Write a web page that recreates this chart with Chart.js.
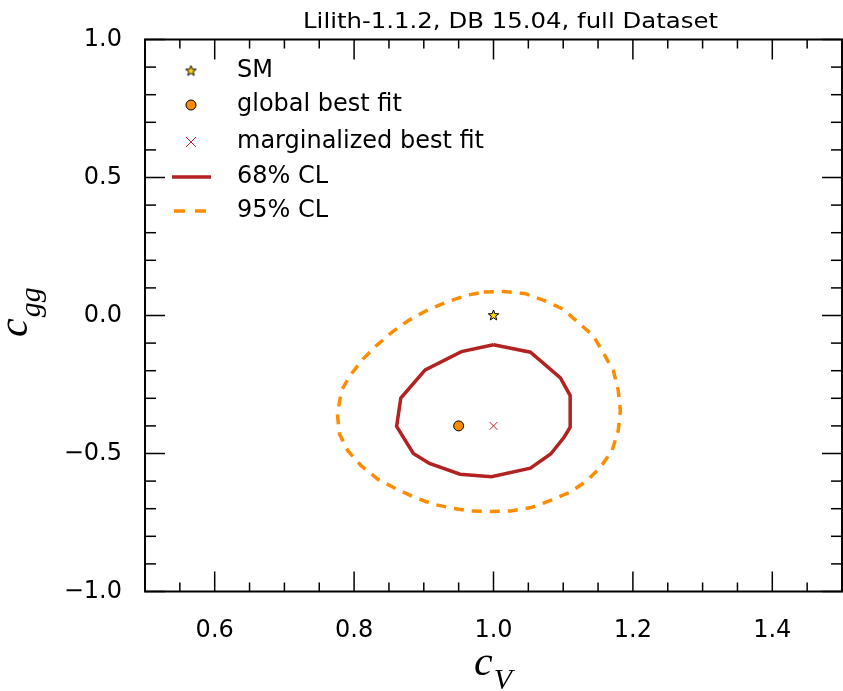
<!DOCTYPE html>
<html>
<head>
<meta charset="utf-8">
<script src="https://cdn.jsdelivr.net/npm/chart.js@4/dist/chart.umd.min.js"></script>
<style>
  body { margin: 0; background: #fff; overflow: hidden; }
  canvas { display: block; }
</style>
</head>
<body>
<canvas id="myChart" width="843" height="691"></canvas>
<script>
// contour values (cV, cgg)
const cl68X = [1.000, 1.053, 1.096, 1.110, 1.110, 1.101, 1.082, 1.053, 0.997, 0.952, 0.908, 0.885, 0.861, 0.867, 0.902, 0.954, 1.000];
const cl68Y = [-0.106, -0.133, -0.226, -0.290, -0.405, -0.442, -0.502, -0.553, -0.584, -0.575, -0.536, -0.500, -0.402, -0.299, -0.197, -0.131, -0.106];

const cl95X = [0.986, 1.015, 1.046, 1.073, 1.099, 1.121, 1.143, 1.157, 1.172, 1.179, 1.182, 1.179, 1.170, 1.153, 1.134, 1.109, 1.080, 1.054, 1.025, 0.996,
               0.967, 0.943, 0.914, 0.887, 0.861, 0.834, 0.810, 0.791, 0.779, 0.776, 0.782, 0.794, 0.813, 0.832, 0.854, 0.878, 0.904, 0.932, 0.961, 0.986];
const cl95Y = [0.085, 0.087, 0.079, 0.054, 0.024, -0.024, -0.073, -0.133, -0.200, -0.272, -0.345, -0.417, -0.490, -0.551, -0.599, -0.641, -0.672, -0.696, -0.708, -0.710,
               -0.708, -0.699, -0.684, -0.659, -0.629, -0.593, -0.544, -0.490, -0.429, -0.357, -0.272, -0.218, -0.157, -0.109, -0.061, -0.018, 0.018, 0.048, 0.073, 0.085];

const smPoint = [1.0, 0.0];
const globalBest = [0.95, -0.4];
const margBest = [1.0, -0.4];

const xTicks = [0.6, 0.8, 1.0, 1.2, 1.4];
const yTicks = [-1.0, -0.5, 0.0, 0.5, 1.0];

const titleText = 'Lilith-1.1.2, DB 15.04, full Dataset';

// star marker image
function starImage(size) {
    const c = document.createElement('canvas');
    c.width = size; c.height = size;
    const g = c.getContext('2d');
    const cx = size / 2, cy = size / 2, ro = size / 2 - 1, ri = ro * 0.42;
    g.beginPath();
    for (let i = 0; i < 10; i++) {
        const r = i % 2 === 0 ? ro : ri;
        const a = -Math.PI / 2 + i * Math.PI / 5;
        g.lineTo(cx + r * Math.cos(a), cy + r * Math.sin(a));
    }
    g.closePath();
    g.fillStyle = '#ffd700';
    g.fill();
    g.strokeStyle = '#000';
    g.lineWidth = 1;
    g.stroke();
    return c;
}
const star = starImage(13);

function fmt(v) {
    return v.toFixed(1).replace('-', '\u2212');
}

const decor = {
    id: 'decor',
    afterDraw(chart) {
        const { ctx, chartArea: a, scales: { x, y } } = chart;
        ctx.save();

        // frame
        ctx.strokeStyle = '#000';
        ctx.lineWidth = 2;
        ctx.strokeRect(a.left, a.top, a.right - a.left, a.bottom - a.top);

        // inward ticks on all four sides
        ctx.lineWidth = 1.5;
        function seg(x1, y1, x2, y2) {
            ctx.beginPath(); ctx.moveTo(x1, y1); ctx.lineTo(x2, y2); ctx.stroke();
        }
        for (let i = 0; i <= 20; i++) {
            const v = 0.5 + i * 0.05;
            const px = x.getPixelForValue(v);
            const major = xTicks.some(t => Math.abs(t - v) < 1e-6);
            const len = major ? 20 : 9;
            seg(px, a.bottom, px, a.bottom - len);
            seg(px, a.top, px, a.top + len);
        }
        for (let i = 0; i <= 20; i++) {
            const v = -1 + i * 0.1;
            const py = y.getPixelForValue(v);
            const major = yTicks.some(t => Math.abs(t - v) < 1e-6);
            const len = major ? 20 : 11;
            seg(a.left, py, a.left + len, py);
            seg(a.right, py, a.right - len, py);
        }

        // title
        ctx.fillStyle = '#000';
        ctx.font = '21px "DejaVu Sans"';
        ctx.textBaseline = 'alphabetic';
        ctx.textAlign = 'left';
        const tw = ctx.measureText(titleText).width;
        ctx.save();
        ctx.translate(303, 28);
        ctx.scale(415 / tw, 1);
        ctx.fillText(titleText, 0, 0);
        ctx.restore();

        // axis titles
        ctx.font = 'italic 42px "Liberation Serif"';
        ctx.fillText('c', 474, 675);
        const cw = ctx.measureText('c').width;
        ctx.font = 'italic 30px "Liberation Serif"';
        ctx.fillText('V', 474 + cw + 1, 689);

        ctx.save();
        ctx.translate(27, 337);
        ctx.rotate(-Math.PI / 2);
        ctx.font = 'italic 42px "Liberation Serif"';
        ctx.fillText('c', 0, 0);
        ctx.font = 'italic 30px "Liberation Serif"';
        ctx.fillText('gg', cw + 1, 13);
        ctx.restore();

        // legend
        const lx = 191, tx = 237;
        const rows = [71, 105, 142, 177, 211];
        ctx.font = '24px "DejaVu Sans"';
        ctx.textBaseline = 'middle';
        const ds = chart.data.datasets;
        ctx.drawImage(star, lx - star.width / 2, rows[0] - star.height / 2);
        ctx.fillText(ds[2].label, tx, rows[0]);

        ctx.beginPath();
        ctx.arc(lx, rows[1], 5, 0, Math.PI * 2);
        ctx.fillStyle = ds[3].backgroundColor;
        ctx.fill();
        ctx.lineWidth = 1;
        ctx.strokeStyle = '#000';
        ctx.stroke();
        ctx.fillStyle = '#000';
        ctx.fillText(ds[3].label, tx, rows[1]);

        ctx.strokeStyle = ds[4].borderColor;
        ctx.lineWidth = 1;
        seg(lx - 5, rows[2] - 5, lx + 5, rows[2] + 5);
        seg(lx - 5, rows[2] + 5, lx + 5, rows[2] - 5);
        ctx.fillText(ds[4].label, tx, rows[2]);

        ctx.strokeStyle = ds[0].borderColor;
        ctx.lineWidth = ds[0].borderWidth;
        seg(172, rows[3], 211, rows[3]);
        ctx.fillText(ds[0].label, tx, rows[3]);

        ctx.strokeStyle = ds[1].borderColor;
        ctx.lineWidth = ds[1].borderWidth;
        ctx.setLineDash([11, 10]);
        seg(174, rows[4], 211, rows[4]);
        ctx.setLineDash([]);
        ctx.fillText(ds[1].label, tx, rows[4]);

        ctx.restore();
    }
};

const ctx = document.getElementById('myChart').getContext('2d');

const myChart = new Chart(ctx, {
    type: 'scatter',
    data: {
        datasets: [
            {
                label: '68% CL',
                data: cl68X.map((v, i) => ({ x: v, y: cl68Y[i] })),
                showLine: true,
                borderColor: '#b22222',
                borderWidth: 3.5,
                pointRadius: 0,
                tension: 0
            },
            {
                label: '95% CL',
                data: cl95X.map((v, i) => ({ x: v, y: cl95Y[i] })),
                showLine: true,
                borderColor: '#ff8c00',
                borderWidth: 3.5,
                borderDash: [10, 8],
                pointRadius: 0,
                tension: 0
            },
            {
                label: 'SM',
                data: [{ x: smPoint[0], y: smPoint[1] }],
                pointStyle: star,
                pointRadius: 6
            },
            {
                label: 'global best fit',
                data: [{ x: globalBest[0], y: globalBest[1] }],
                pointStyle: 'circle',
                pointRadius: 5,
                backgroundColor: '#ff8c00',
                borderColor: '#000',
                borderWidth: 1
            },
            {
                label: 'marginalized best fit',
                data: [{ x: margBest[0], y: margBest[1] }],
                pointStyle: 'crossRot',
                pointRadius: 5.5,
                borderColor: '#c8232c',
                borderWidth: 1
            }
        ]
    },
    options: {
        responsive: false,
        animation: false,
        layout: { autoPadding: false, padding: { top: 39.5, right: 1, left: 0, bottom: 0 } },
        plugins: {
            legend: { display: false },
            title: { display: false },
            tooltip: { enabled: false }
        },
        scales: {
            x: {
                type: 'linear',
                min: 0.5,
                max: 1.5,
                afterBuildTicks: s => { s.ticks = xTicks.map(v => ({ value: v })); },
                afterFit: s => { s.height = 99.5; s.paddingLeft = 0; s.paddingRight = 0; },
                grid: { display: false, drawTicks: false },
                border: { display: false },
                ticks: {
                    padding: 25,
                    color: '#000',
                    font: { family: 'DejaVu Sans', size: 24 },
                    callback: v => fmt(v)
                }
            },
            y: {
                type: 'linear',
                min: -1,
                max: 1,
                afterBuildTicks: s => { s.ticks = yTicks.map(v => ({ value: v })); },
                afterFit: s => { s.width = 145; s.paddingTop = 0; s.paddingBottom = 0; },
                grid: { display: false, drawTicks: false },
                border: { display: false },
                ticks: {
                    padding: 23,
                    color: '#000',
                    font: { family: 'DejaVu Sans', size: 24 },
                    callback: v => fmt(v)
                }
            }
        }
    },
    plugins: [decor]
});
</script>
</body>
</html>
